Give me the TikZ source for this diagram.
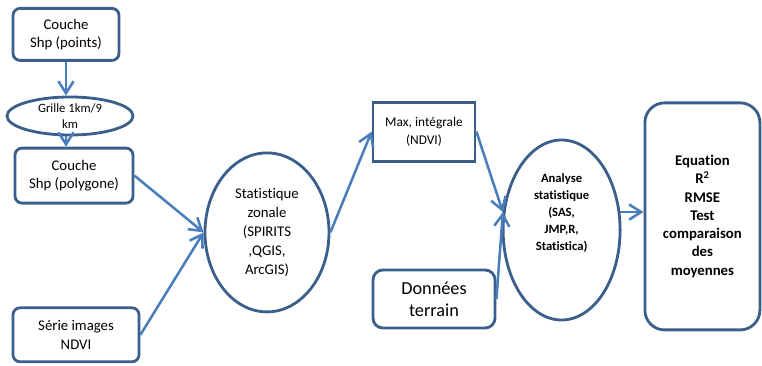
\documentclass[tikz,border=0pt]{standalone}
\usepackage{fontspec}
\setmainfont{Carlito}[Ligatures=NoCommon]
\usetikzlibrary{shapes.geometric,arrows.meta}

\definecolor{boxblue}{HTML}{3A5F8B}
\definecolor{arrowblue}{HTML}{4A7EBB}

\begin{document}
\begin{tikzpicture}[
  box/.style={rectangle, draw=boxblue, line width=2pt, rounded corners=5pt, align=center, inner sep=0pt, font=\fontsize{10.5}{13}\selectfont},
  plainbox/.style={box, rounded corners=0pt, font=\fontsize{9.5}{13}\selectfont},
  oval/.style={ellipse, draw=boxblue, line width=2pt, align=center, inner sep=0pt, font=\fontsize{10.5}{13.5}\selectfont},
  arrow/.style={-{Straight Barb[length=3mm,width=3.8mm]}, draw=arrowblue, line width=1.8pt}
]
  \useasboundingbox (0,0) rectangle (19.05,9.15);

  % Left column
  \node[box, minimum width=2.65cm, minimum height=1.3cm] (pts) at (1.65,8.29) {Couche\\Shp (points)};
  \node[oval, minimum width=3.15cm, minimum height=0.95cm,
        label={[font=\fontsize{9}{11}\selectfont, align=center]center:Grille 1km/9\\km}] (grille) at (1.75,6.25) {};
  \node[box, minimum width=2.95cm, minimum height=1.375cm] (poly) at (1.85,4.76) {Couche\\Shp (polygone)};
  \node[box, minimum width=3.15cm, minimum height=1.35cm] (ser) at (1.9,0.78) {Série images\\NDVI};

  % Middle
  \node[oval, minimum width=3.1cm, minimum height=3.975cm] (stat) at (6.675,3.34) {Statistique\\zonale\\(SPIRITS\\,QGIS,\\ArcGIS)};
  \node[plainbox, minimum width=2.55cm, minimum height=1.475cm] (max) at (10.6,5.86) {Max, intégrale\\(NDVI)};
  \node[box, rounded corners=7pt, minimum width=3.05cm, minimum height=1.45cm, font=\fontsize{13}{15.5}\selectfont] (don) at (10.85,1.675) {Données\\terrain};

  % Right
  \node[oval, minimum width=2.925cm, minimum height=4.5cm,
        label={[font=\fontsize{9}{12}\selectfont\bfseries, align=center, yshift=0.42cm]center:Analyse\\statistique\\(SAS,\\JMP,R,\\Statistica)}] (ana) at (14.04,3.4) {};
  \node[box, rounded corners=14pt, minimum width=2.875cm, minimum height=5.675cm, font=\fontsize{10.5}{13}\selectfont\bfseries] (res) at (17.56,3.74) {Equation\\R\textsuperscript{2}\\RMSE\\Test\\comparaison\\des\\moyennes};

  % Connections
  \draw[arrow] (pts.south) -- (pts.south |- grille.north);
  \draw[arrow] (pts.south |- grille.south) -- (pts.south |- poly.north);
  \draw[arrow] (poly.east) -- (stat.west);
  \draw[arrow] (ser.east) -- (stat.west);
  \draw[arrow] (stat.east) -- (max.west);
  \draw[arrow] (max.east) -- (ana.163);
  \draw[arrow] (don.east) -- (ana.163);
  \draw[arrow] (ana.17) -- (ana.17 -| res.west);
\end{tikzpicture}
\end{document}
